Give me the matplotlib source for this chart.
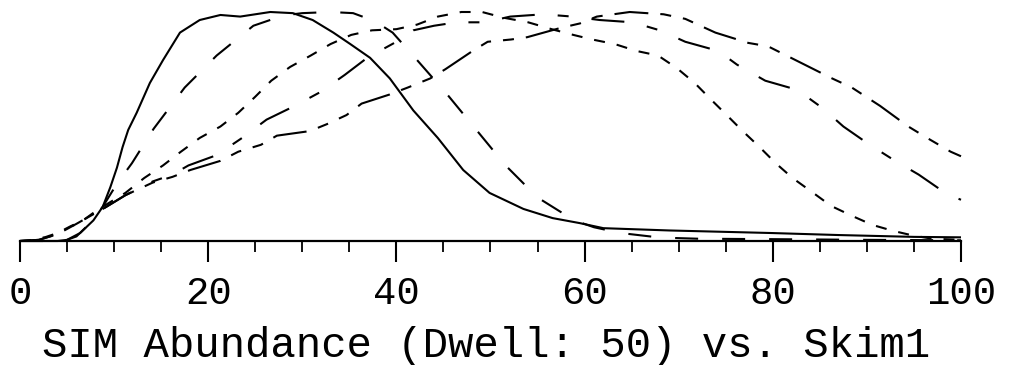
import matplotlib
matplotlib.use("Agg")
import matplotlib.pyplot as plt
from matplotlib.ticker import MultipleLocator

# ---- data ----
xa = [0, 4, 5, 6.4, 7.8, 8.8, 9.6, 10.3, 10.9, 11.5, 12.4, 13.8, 15.2, 17.0, 19.1, 21.3, 23.4,
      26.6, 29.0, 31.1, 33.3, 35.1, 37.2, 39.3, 41.8, 44.4, 47.1, 49.9, 53.5, 56.6, 59.5, 62.0,
      69.0, 79.7, 87.0, 95.0, 100]
ya = [0, 0, 0.005, 0.035, 0.09, 0.15, 0.235, 0.32, 0.41, 0.485, 0.56, 0.69, 0.79, 0.91, 0.965,
      0.987, 0.98, 1.0, 0.995, 0.965, 0.91, 0.86, 0.80, 0.71, 0.57, 0.45, 0.31, 0.21, 0.14, 0.10,
      0.078, 0.056, 0.046, 0.035, 0.026, 0.018, 0.016]

xb = [0, 4, 5, 6, 7.5, 8.8, 10.3, 11.9, 14.2, 17.5, 20.9, 24.8, 28.0, 30.0, 33.0, 35.4, 37.7,
      39.6, 42.2, 45.4, 48.5, 51.6, 55.0, 58.9, 61.0, 63.8, 68.0, 72.0, 80.0, 90.0, 100]
yb = [0, 0, 0.005, 0.02, 0.08, 0.15, 0.25, 0.34, 0.49, 0.67, 0.81, 0.94, 0.985, 0.995, 1.0,
      0.995, 0.96, 0.91, 0.79, 0.64, 0.485, 0.33, 0.19, 0.09, 0.06, 0.035, 0.015, 0.01, 0.008,
      0.005, 0.003]

xc = [0, 1, 2.7, 4, 5.4, 6.6, 7.7, 8.8, 11.2, 13.2, 15.2, 17.1, 19.1, 21.3, 23.2, 25.0, 26.7,
      28.7, 30.9, 33.0, 35.2, 37.4, 40.0, 42.2, 44.4, 46.9, 49.1, 51.4, 54.0, 56.5, 58.8, 60.8,
      63.2, 65.5, 67.8, 69.8, 71.7, 73.5, 75.1, 76.8, 78.6, 80.3, 82.1, 84.3, 86.2, 88.4, 90.6,
      92.8, 95.1, 97.0, 100]
yc = [0, 0.003, 0.017, 0.035, 0.065, 0.087, 0.12, 0.15, 0.21, 0.275, 0.33, 0.39, 0.45, 0.50,
      0.56, 0.63, 0.70, 0.76, 0.81, 0.86, 0.90, 0.92, 0.925, 0.945, 0.98, 1.0, 1.0, 0.975, 0.955,
      0.925, 0.90, 0.88, 0.86, 0.83, 0.81, 0.755, 0.69, 0.615, 0.55, 0.48, 0.41, 0.34, 0.275,
      0.21, 0.153, 0.11, 0.07, 0.044, 0.022, 0.01, 0.005]

xd = [0, 2, 4, 6, 7.5, 8.8, 11.2, 14.1, 16.2, 17.9, 20.9, 23.6, 26.2, 29.2, 31.9, 34.5, 36.9,
      40.0, 41.8, 44.0, 46.4, 49.4, 52.1, 55.6, 58.7, 61.6, 65.1, 68.0, 70.7, 74.2, 76.2, 79.2,
      82.6, 85.3, 87.5, 90.3, 93.0, 95.5, 98.5, 100]
yd = [0, 0.005, 0.03, 0.075, 0.11, 0.14, 0.20, 0.26, 0.29, 0.33, 0.375, 0.45, 0.53, 0.59, 0.65,
      0.725, 0.80, 0.87, 0.92, 0.94, 0.955, 0.955, 0.98, 0.99, 0.98, 0.965, 0.955, 0.92, 0.87,
      0.83, 0.77, 0.70, 0.66, 0.58, 0.50, 0.42, 0.35, 0.29, 0.205, 0.18]

xe = [0, 2, 4, 6, 7.5, 8.8, 11.2, 14.1, 16.2, 18.1, 21.3, 23.2, 25.6, 27.3, 30.8, 32.6, 34.7,
      36.3, 39.3, 41.2, 43.6, 45.2, 48.1, 49.7, 52.2, 53.9, 57.4, 59.5, 61.3, 64.8, 68.4, 70.7,
      73.9, 77.4, 79.5, 82.9, 86.3, 88.4, 91.4, 94.4, 96.4, 98.9, 100]
ye = [0, 0.005, 0.03, 0.075, 0.11, 0.14, 0.20, 0.255, 0.28, 0.31, 0.35, 0.39, 0.42, 0.46, 0.48,
      0.51, 0.55, 0.60, 0.64, 0.67, 0.71, 0.75, 0.83, 0.87, 0.88, 0.89, 0.93, 0.95, 0.98, 1.0,
      0.99, 0.97, 0.91, 0.865, 0.85, 0.78, 0.71, 0.67, 0.59, 0.50, 0.45, 0.39, 0.37]

xticks_major = [0, 20, 40, 60, 80, 100]
xtick_labels = ["0", "20", "40", "60", "80", "100"]
title = "SIM Abundance (Dwell: 50) vs. Skim1"

# ---- figure ----
W, H = 1011, 365
fig = plt.figure(figsize=(W / 100, H / 100), dpi=100)
ax = fig.add_axes([20 / W, (H - 241) / H, 941 / W, (241 - 12) / H])
ax.set_xlim(0, 100)
ax.set_ylim(0, 1)

lw = 1.5
px = 0.72  # points per pixel
styles = [
    (xa, ya, None),
    (xb, yb, [23 * px, 24 * px]),
    (xc, yc, [11 * px, 12 * px]),
    (xd, yd, [33 * px, 23 * px, 11 * px, 23 * px]),
    (xe, ye, [34 * px, 12 * px, 11 * px, 12 * px, 11 * px, 12 * px]),
]
for x, y, d in styles:
    ln, = ax.plot(x, y, color="black", lw=lw, clip_on=False,
                  solid_capstyle="butt", solid_joinstyle="round")
    if d is not None:
        ln.set_dashes([v / lw for v in d])

for s in ["top", "right", "left"]:
    ax.spines[s].set_visible(False)
ax.spines["bottom"].set_linewidth(1.6)
ax.set_yticks([])
ax.xaxis.set_major_locator(MultipleLocator(20))
ax.xaxis.set_minor_locator(MultipleLocator(5))
ax.set_xticks(xticks_major)
ax.set_xticklabels(xtick_labels, fontfamily="Liberation Mono", fontsize=28)
ax.tick_params(axis="x", which="major", length=15, width=1.5, pad=10)
ax.tick_params(axis="x", which="minor", length=8, width=1.3)

fig.text(486 / W, 1 - 357 / H, title, ha="center", va="baseline",
         fontfamily="Liberation Mono", fontsize=30.5)

fig.savefig("out.png", dpi=100)
